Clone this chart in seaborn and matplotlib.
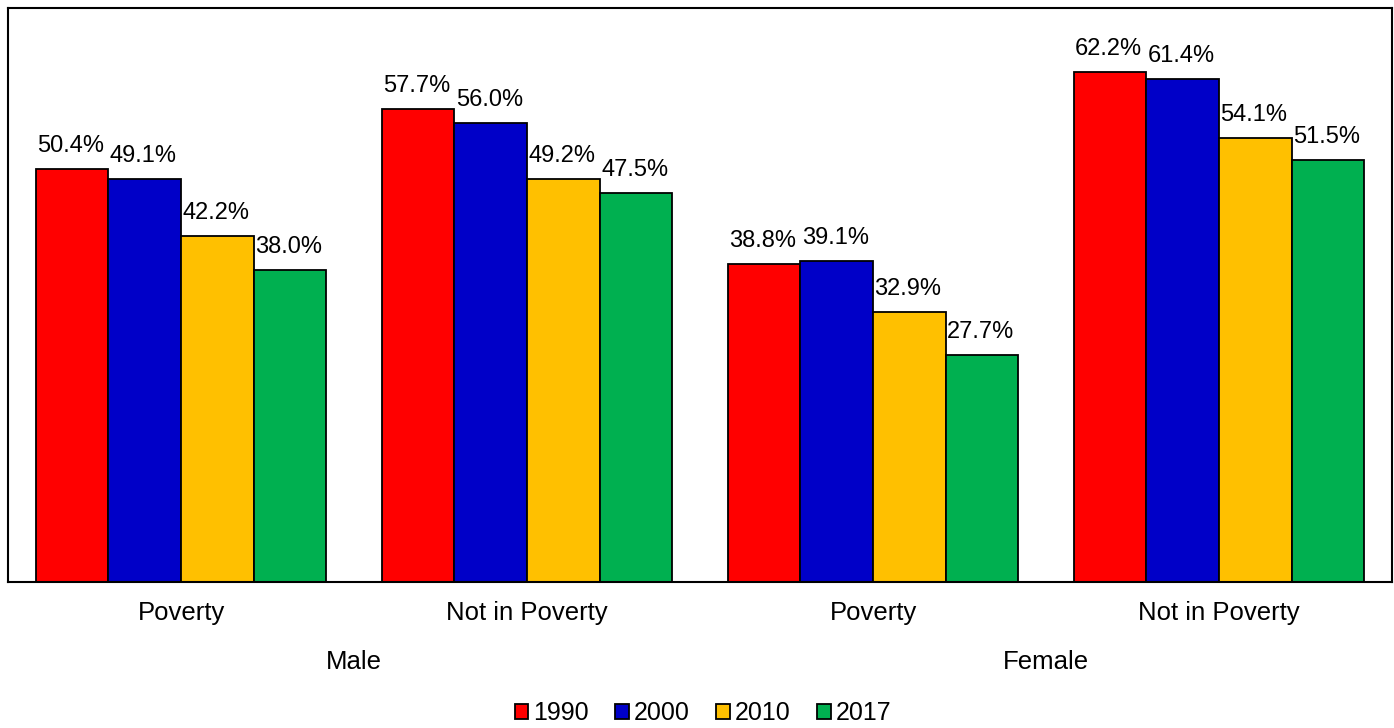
import matplotlib
matplotlib.use("Agg")
import matplotlib.pyplot as plt
from matplotlib.patches import Patch
import seaborn as sns
import pandas as pd

# Share of each group, by sex and poverty status
sexes = ["Male", "Male", "Female", "Female"]
statuses = ["Poverty", "Not in Poverty", "Poverty", "Not in Poverty"]
years = ["1990", "2000", "2010", "2017"]
values = {
    "1990": [50.4, 57.7, 38.8, 62.2],
    "2000": [49.1, 56.0, 39.1, 61.4],
    "2010": [42.2, 49.2, 32.9, 54.1],
    "2017": [38.0, 47.5, 27.7, 51.5],
}
colors = ["#FF0000", "#0000C8", "#FFC000", "#00B050"]

categories = [f"{s}\n{st}" for s, st in zip(sexes, statuses)]
rows = []
for y in years:
    for c, v in zip(categories, values[y]):
        rows.append({"cat": c, "year": y, "value": v})
df = pd.DataFrame(rows)

sns.set_theme(style="white")
plt.rcParams["font.family"] = ["Liberation Sans", "DejaVu Sans"]
plt.rcParams["text.color"] = "black"

W, H = 1394, 728
fig = plt.figure(figsize=(W / 100, H / 100), dpi=100)
ax = fig.add_axes([8 / W, 1 - 582 / H, (1392 - 8) / W, (582 - 8) / H])

sns.barplot(data=df, x="cat", y="value", hue="year", order=categories,
            hue_order=years, palette=colors, width=0.84, saturation=1,
            edgecolor="black", linewidth=1.3, legend=False, ax=ax)

ax.set_ylim(0, 70)
ax.set_xlim(-0.5, 3.5)
ax.set_yticks([])
ax.set_xticks([])
ax.set_xlabel("")
ax.set_ylabel("")
for sp in ax.spines.values():
    sp.set_visible(True)
    sp.set_color("black")
    sp.set_linewidth(1.5)

# value labels, left-aligned at each bar's left edge
for container in ax.containers:
    for bar in container:
        h = bar.get_height()
        ax.annotate(f"{h:.1f}%", (bar.get_x(), h), xytext=(1, 12.2),
                    textcoords="offset points", ha="left", va="baseline",
                    fontsize=17, color="black")

# category and group labels below the axis
for i, st in enumerate(statuses):
    ax.annotate(st, (i, H - 613), xycoords=("data", "figure pixels"),
                ha="center", va="center", fontsize=18.5, color="black",
                annotation_clip=False)
for center, sx in [(0.5, "Male"), (2.5, "Female")]:
    ax.annotate(sx, (center, H - 662), xycoords=("data", "figure pixels"),
                ha="center", va="center", fontsize=18.5, color="black",
                annotation_clip=False)

handles = [Patch(facecolor=c, edgecolor="black", linewidth=1.3) for c in colors]
fig.legend(handles, years, loc="center",
           bbox_to_anchor=(0.5 + 6 / W, 1 - 713 / H),
           ncol=4, frameon=False, fontsize=18, handlelength=0.55,
           handleheight=0.55, handletextpad=0.2, columnspacing=1.05)

fig.savefig("out.png", dpi=100)
